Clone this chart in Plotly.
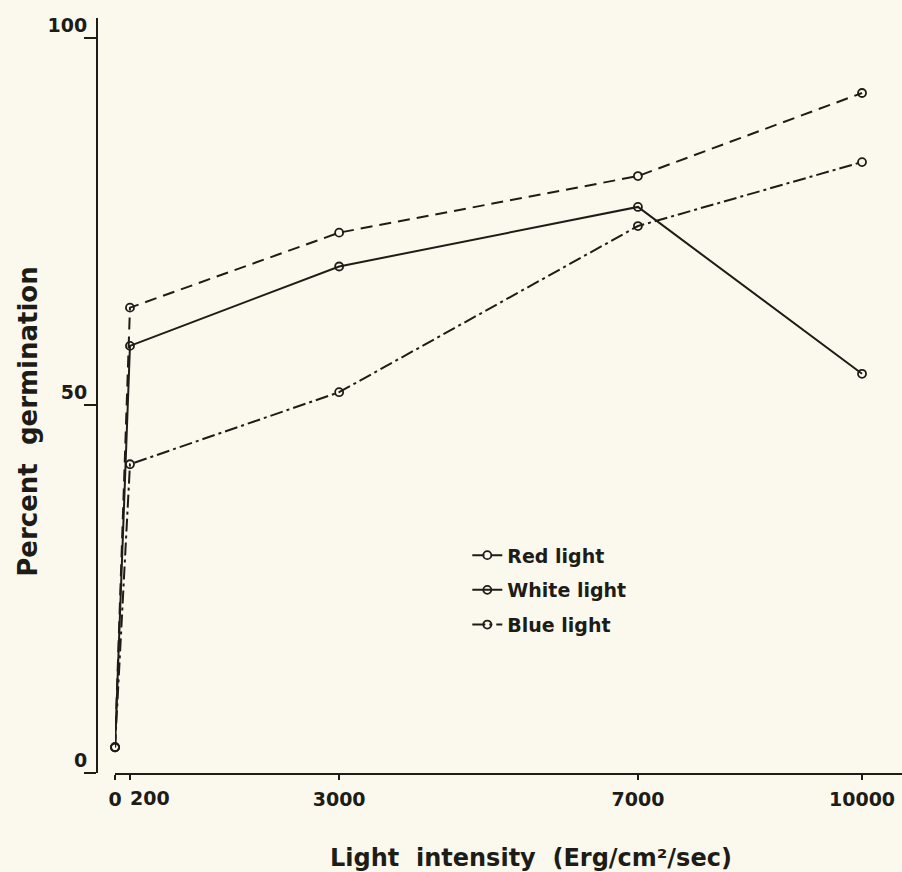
import plotly.graph_objects as go

# Data
intensity = [0, 200, 3000, 7000, 10000]          # Erg/cm2/sec
red_light = [3.5, 63.3, 73.5, 81.2, 92.5]        # percent germination
white_light = [3.5, 58.1, 68.9, 77.0, 54.3]
blue_light = [3.5, 42.0, 51.8, 74.4, 83.1]

series_names = ["Red light", "White light", "Blue light"]
x_tick_vals = [0, 200, 3000, 7000, 10000]
x_tick_text = ["0", "", "3000", "7000", "10000"]
y_tick_vals = [0, 50, 100]

INK = "#1d1c16"
BG = "#fbf9ee"
FONT = "DejaVu Sans"

dashes = ["12px,7px", "solid", "13px,4px,3px,4px"]
values = [red_light, white_light, blue_light]

fig = go.Figure()
for i, (name, vals, dash) in enumerate(zip(series_names, values, dashes)):
    fig.add_trace(go.Scatter(
        x=intensity, y=vals, name=name, mode="lines+markers",
        legendgroup=f"g{i}",
        line=dict(color=INK, width=2, dash=dash),
        marker=dict(symbol="circle-open", size=8, color=INK, line=dict(width=1.8, color=INK)),
        cliponaxis=False,
    ))

tick_font = dict(size=19, family=FONT, color=INK, weight="bold")

fig.update_layout(
    width=902, height=872,
    margin=dict(l=97, r=0, t=18, b=99),
    paper_bgcolor=BG, plot_bgcolor=BG,
    font=dict(family=FONT, color=INK, size=18),
    showlegend=True,
    legend=dict(
        x=0.46, y=0.3135, xanchor="left", yanchor="top",
        bgcolor="rgba(0,0,0,0)",
        font=dict(size=19, family=FONT, color=INK, weight="bold"),
        tracegroupgap=7, traceorder="grouped",
    ),
    xaxis=dict(
        domain=[0.0224, 1], range=[0, 10535],
        showgrid=False, zeroline=False,
        showline=True, linecolor=INK, linewidth=2,
        ticks="outside", ticklen=5, tickwidth=1.5, tickcolor=INK,
        tickvals=x_tick_vals, ticktext=x_tick_text,
        tickfont=tick_font,
        ticklabelstandoff=3,
    ),
    yaxis=dict(
        anchor="free", position=0, range=[0, 102.7],
        showgrid=False, zeroline=False,
        showline=True, linecolor=INK, linewidth=2,
        ticks="outside", ticklen=12, tickwidth=1.5, tickcolor=INK,
        tickvals=y_tick_vals,
        tickfont=tick_font,
        ticklabelshift=-13, ticklabelstandoff=-7,
    ),
    annotations=[
        dict(text="200", x=200, xref="x", y=0, yref="paper",
             xanchor="left", yanchor="middle", yshift=-25, xshift=-2,
             showarrow=False, font=tick_font),
        dict(text="Light  intensity  (Erg/cm²/sec)", x=(531 - 97) / 805,
             xref="paper", y=-0.112, yref="paper", xanchor="center", yanchor="middle",
             showarrow=False, font=dict(size=24, family=FONT, color=INK, weight="bold")),
        dict(text="Percent  germination", x=-0.086, xref="paper", y=0.465, yref="paper",
             xanchor="center", yanchor="middle", textangle=-90,
             showarrow=False, font=dict(size=26, family=FONT, color=INK, weight="bold")),
    ],
)

fig.write_html(
    "out.html",
    config={"displayModeBar": False},
    post_script="document.body.style.margin='0';document.body.style.background='" + BG + "';",
)
